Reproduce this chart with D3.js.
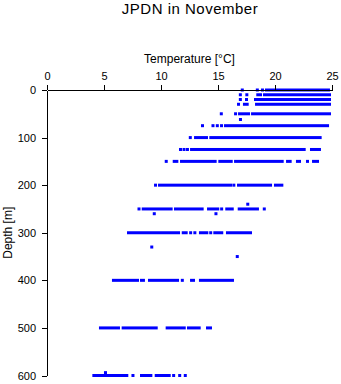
<!DOCTYPE html>
<html>
<head>
<meta charset="utf-8">
<script src="https://cdn.jsdelivr.net/npm/d3@7/dist/d3.min.js"></script>
<style>
  html, body { margin: 0; padding: 0; background: #fff; }
  svg { display: block; }
  text { font-family: "Liberation Sans", Arial, Helvetica, sans-serif; fill: #000; }
</style>
</head>
<body>
<svg id="chart" width="341" height="384"></svg>
<script>
// Temperature profile observations for JPDN, November.
// Each run is [depth (m), lowest temperature (°C), highest temperature (°C)];
// a run whose two temperatures are equal is a single observation.
const titleText = "JPDN in November";
const xLabel = "Temperature [°C]";
const yLabel = "Depth [m]";

const tempTicks = [0, 5, 10, 15, 20, 25];
const depthTicks = [0, 100, 200, 300, 400, 500, 600];

const runs0 = [[0, 17.13, 17.13], [0, 18.45, 18.45], [0, 18.9, 18.9], [0, 19.25, 24.69]];
const runs10 = [[10, 16.96, 16.96], [10, 17.53, 17.53], [10, 18.49, 18.73], [10, 19.08, 24.78]];
const runs20 = [[20, 16.96, 16.96], [20, 17.5, 17.5], [20, 18.29, 24.78]];
const runs30 = [[30, 16.8, 16.8], [30, 17.32, 17.56], [30, 18.38, 24.78]];
const runs50 = [[50, 15.29, 15.29], [50, 16.54, 16.54], [50, 16.89, 17.68], [50, 18.03, 24.78], [62, 16.97, 16.97]];
const runs75 = [[75, 13.64, 13.64], [75, 14.56, 14.56], [75, 14.94, 14.94], [75, 15.31, 15.31], [75, 15.66, 24.61]];
const runs100 = [[100, 12.57, 12.57], [100, 13.03, 13.99], [100, 14.37, 23.96]];
const runs125 = [[125, 11.71, 11.71], [125, 12.02, 12.02], [125, 12.32, 12.32], [125, 12.68, 22.56], [125, 23.2, 23.9]];
const runs150 = [[150, 10.46, 10.46], [150, 11.16, 11.39], [150, 11.8, 14.75], [150, 15.16, 16.16], [150, 16.54, 20.63],
                 [150, 21.1, 21.33], [150, 21.97, 22.15], [150, 22.85, 22.85], [150, 23.38, 23.73]];
const runs200 = [[200, 9.52, 9.52], [200, 9.87, 16.1], [200, 16.39, 16.39], [200, 16.8, 19.61], [200, 20.04, 20.6], [240, 17.61, 17.61]];
const runs250 = [[250, 8.07, 8.07], [250, 8.44, 10.89], [250, 11.27, 13.61], [250, 14.17, 14.98], [250, 15.32, 15.32],
                 [250, 15.77, 16.25], [250, 16.86, 18.46], [250, 19.06, 19.06], [260, 9.41, 9.41], [260, 14.82, 14.82]];
const runs300 = [[300, 7.15, 11.54], [300, 11.95, 12.21], [300, 12.6, 12.6], [300, 12.97, 12.97], [300, 13.46, 14.02],
                 [300, 14.36, 14.36], [300, 14.72, 15.33], [300, 15.83, 17.85], [330, 9.19, 9.19], [350, 16.69, 16.69]];
const runs400 = [[400, 5.83, 7.94], [400, 8.29, 8.46], [400, 8.99, 11.45], [400, 11.87, 11.87], [400, 12.68, 12.85], [400, 13.46, 16.27]];
const runs500 = [[500, 4.69, 6.27], [500, 6.68, 9.58], [500, 10.54, 12.04], [500, 12.41, 13.35], [500, 14.08, 14.34]];
const runs600 = [[600, 4.11, 7.0], [594, 5.13, 5.13], [600, 7.54, 7.54], [600, 8.29, 9.11], [600, 9.58, 10.72],
                 [600, 11.11, 11.11], [600, 11.64, 11.64], [600, 12.13, 12.13]];

const allRuns = [].concat(runs0, runs10, runs20, runs30, runs50, runs75, runs100, runs125,
                          runs150, runs200, runs250, runs300, runs400, runs500, runs600);

const svg = d3.select("#chart");

const x = d3.scaleLinear().domain([0, 25]).range([47, 332]);
const y = d3.scaleLinear().domain([0, 600]).range([90, 375.5]);

const markSize = 3;

// observation runs
svg.append("g")
  .selectAll("rect")
  .data(allRuns)
  .join("rect")
    .attr("x", d => x(d[1]) - markSize / 2)
    .attr("y", d => y(d[0]) - markSize / 2)
    .attr("width", d => x(d[2]) - x(d[1]) + markSize)
    .attr("height", markSize)
    .attr("fill", "#0000ff");

// temperature axis along the top
const xAxis = svg.append("g")
  .attr("transform", `translate(0,${y(0)})`)
  .call(d3.axisTop(x).tickValues(tempTicks).tickSize(5).tickSizeOuter(0).tickPadding(5));

// depth axis on the left
const yAxis = svg.append("g")
  .attr("transform", `translate(${x(0)},0)`)
  .call(d3.axisLeft(y).tickValues(depthTicks).tickSize(5).tickSizeOuter(0).tickPadding(6));

[xAxis, yAxis].forEach(g => {
  g.selectAll("path, line").attr("stroke", "#000").attr("stroke-width", 1).attr("shape-rendering", "crispEdges");
  g.selectAll("text").attr("font-size", "11px").attr("font-family", null).attr("fill", "#000");
});

svg.append("text")
  .attr("x", 190)
  .attr("y", 14)
  .attr("text-anchor", "middle")
  .attr("font-size", "15px")
  .attr("letter-spacing", "0.5px")
  .text(titleText);

svg.append("text")
  .attr("x", (x(0) + x(25)) / 2)
  .attr("y", 63)
  .attr("text-anchor", "middle")
  .attr("font-size", "12px")
  .text(xLabel);

svg.append("text")
  .attr("transform", `translate(12,${(y(0) + y(600)) / 2}) rotate(-90)`)
  .attr("text-anchor", "middle")
  .attr("font-size", "12px")
  .text(yLabel);
</script>
</body>
</html>
